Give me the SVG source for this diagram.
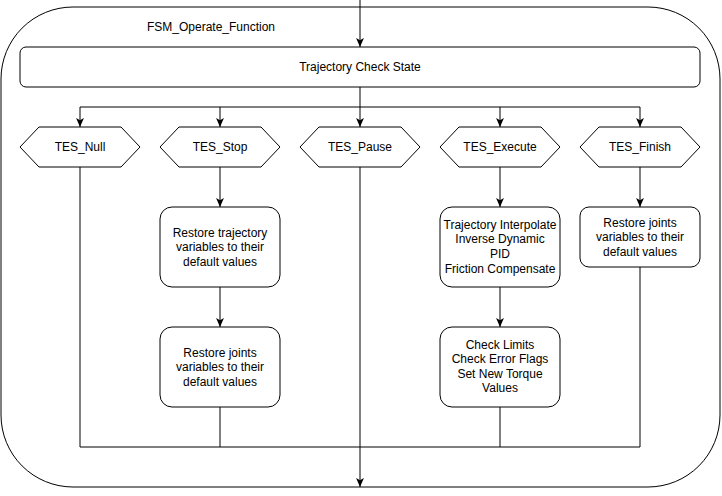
<svg xmlns="http://www.w3.org/2000/svg" width="722" height="496" viewBox="0 0 722 496">
<style>
.s{fill:#fff;stroke:#000;stroke-width:1}
.t{font-family:"Liberation Sans",Arial,sans-serif;font-size:12px;fill:#000;text-anchor:middle}
.c{fill:none;stroke:#000;stroke-width:1}
</style>
<defs>
<marker id="a" markerUnits="userSpaceOnUse" markerWidth="9" markerHeight="9" viewBox="0 0 8 8" refX="8" refY="4" orient="auto">
<path d="M0,0.5 L8,4 L0,7.5 L2,4 Z" fill="#000"/>
</marker>
</defs>
<rect width="722" height="496" fill="#fff"/>
<g id="outer">
<rect class="s" x="1" y="7" width="719" height="480" rx="72" ry="72"/>
<text class="t" x="211" y="31">FSM_Operate_Function</text>
</g>
<g id="check">
<rect class="s" x="20" y="47" width="680" height="40" rx="6" ry="6"/>
<text class="t" x="360" y="71">Trajectory Check State</text>
</g>
<g id="connectors">
<path class="c" d="M360,0 V47" marker-end="url(#a)"/>
<path class="c" d="M360,87 V107 H80 V127" marker-end="url(#a)"/>
<path class="c" d="M220,107 V127" marker-end="url(#a)"/>
<path class="c" d="M360,107 V127" marker-end="url(#a)"/>
<path class="c" d="M360,107 H500 V127" marker-end="url(#a)"/>
<path class="c" d="M500,107 H640 V127" marker-end="url(#a)"/>
<path class="c" d="M220,167 V207" marker-end="url(#a)"/>
<path class="c" d="M220,287 V327" marker-end="url(#a)"/>
<path class="c" d="M500,167 V207" marker-end="url(#a)"/>
<path class="c" d="M500,287 V327" marker-end="url(#a)"/>
<path class="c" d="M640,167 V207" marker-end="url(#a)"/>
<path class="c" d="M80,167 V447 H640 V267"/>
<path class="c" d="M220,407 V447"/>
<path class="c" d="M500,407 V447"/>
<path class="c" d="M360,167 V487" marker-end="url(#a)"/>
</g>
<g id="tes_null">
<path class="s" d="M20,147 L39,127 H121 L140,147 L121,167 H39 Z"/>
<text class="t" x="80" y="151">TES_Null</text>
</g>
<g id="tes_stop">
<path class="s" d="M160,147 L179,127 H261 L280,147 L261,167 H179 Z"/>
<text class="t" x="220" y="151">TES_Stop</text>
</g>
<g id="tes_pause">
<path class="s" d="M300,147 L319,127 H401 L420,147 L401,167 H319 Z"/>
<text class="t" x="360" y="151">TES_Pause</text>
</g>
<g id="tes_execute">
<path class="s" d="M440,147 L459,127 H541 L560,147 L541,167 H459 Z"/>
<text class="t" x="500" y="151">TES_Execute</text>
</g>
<g id="tes_finish">
<path class="s" d="M580,147 L599,127 H681 L700,147 L681,167 H599 Z"/>
<text class="t" x="640" y="151">TES_Finish</text>
</g>
<g id="stop_restore_traj">
<rect class="s" x="160" y="207" width="120" height="80" rx="12" ry="12"/>
<text class="t" x="220" y="237">Restore trajectory</text>
<text class="t" x="220" y="251">variables to their</text>
<text class="t" x="220" y="266">default values</text>
</g>
<g id="stop_restore_joints">
<rect class="s" x="160" y="327" width="120" height="80" rx="12" ry="12"/>
<text class="t" x="220" y="357">Restore joints</text>
<text class="t" x="220" y="371">variables to their</text>
<text class="t" x="220" y="386">default values</text>
</g>
<g id="exec_compute">
<rect class="s" x="440" y="207" width="120" height="80" rx="12" ry="12"/>
<text class="t" x="500" y="229">Trajectory Interpolate</text>
<text class="t" x="500" y="243">Inverse Dynamic</text>
<text class="t" x="500" y="258">PID</text>
<text class="t" x="500" y="273">Friction Compensate</text>
</g>
<g id="exec_check">
<rect class="s" x="440" y="327" width="120" height="80" rx="12" ry="12"/>
<text class="t" x="500" y="349">Check Limits</text>
<text class="t" x="500" y="363">Check Error Flags</text>
<text class="t" x="500" y="378">Set New Torque</text>
<text class="t" x="500" y="392">Values</text>
</g>
<g id="finish_restore_joints">
<rect class="s" x="580" y="207" width="120" height="60" rx="9" ry="9"/>
<text class="t" x="640" y="227">Restore joints</text>
<text class="t" x="640" y="241">variables to their</text>
<text class="t" x="640" y="256">default values</text>
</g>
</svg>
